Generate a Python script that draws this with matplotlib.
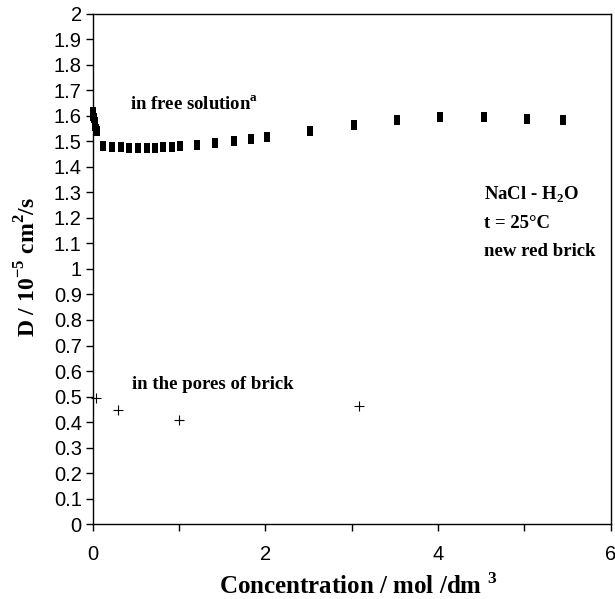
import matplotlib
matplotlib.use("Agg")
import matplotlib.pyplot as plt
import numpy as np
from matplotlib.path import Path

# Data
free_conc = [0.002, 0.005, 0.01, 0.02, 0.03, 0.04, 0.05,
             0.12, 0.22, 0.33, 0.42, 0.52, 0.63, 0.72, 0.81, 0.92, 1.01,
             1.21, 1.42, 1.63, 1.83, 2.02, 2.52, 3.02, 3.52, 4.02, 4.53, 5.03, 5.45]
free_D = [1.615, 1.60, 1.59, 1.575, 1.56, 1.55, 1.54,
          1.482, 1.478, 1.476, 1.474, 1.474, 1.474, 1.475, 1.477, 1.479, 1.481,
          1.487, 1.493, 1.500, 1.509, 1.516, 1.542, 1.566, 1.585, 1.594, 1.594, 1.589, 1.583]
pore_conc = [0.04, 0.29, 1.00, 3.08]
pore_D = [0.495, 0.448, 0.409, 0.461]

yticks = [round(0.1 * i, 1) for i in range(21)]
ytick_labels = [("%g" % v) for v in yticks]
xticks = [0, 2, 4, 6]
xminor = [1, 3, 5]

plt.rcParams['mathtext.fontset'] = 'custom'
plt.rcParams['mathtext.rm'] = 'Liberation Serif:bold'
plt.rcParams['mathtext.bf'] = 'Liberation Serif:bold'

fig = plt.figure(figsize=(6.15, 5.99), dpi=100)
ax = fig.add_axes([0.151, 0.125, 0.842, 0.852])

rect = Path([(-0.36, -0.5), (0.36, -0.5), (0.36, 0.5), (-0.36, 0.5), (-0.36, -0.5)],
            [Path.MOVETO, Path.LINETO, Path.LINETO, Path.LINETO, Path.CLOSEPOLY])
ax.plot(free_conc, free_D, linestyle='none', marker=rect, markersize=6.5,
        color='black', markeredgewidth=0, clip_on=False)
ax.plot(pore_conc, pore_D, linestyle='none', marker='+', markersize=7,
        color='black', markeredgewidth=0.8, clip_on=False)

ax.set_xlim(0, 6)
ax.set_ylim(0, 2)
ax.set_xticks(xticks)
ax.set_xticks(xminor, minor=True)
ax.set_yticks(yticks)
ax.set_yticklabels(ytick_labels)
ax.tick_params(axis='both', direction='out', length=5, width=1, labelsize=14.5,
               colors='black')
ax.tick_params(axis='x', which='minor', direction='out', length=5, width=1)
ax.tick_params(axis='x', pad=10)
ax.tick_params(axis='y', pad=3)
for lab in ax.get_xticklabels() + ax.get_yticklabels():
    lab.set_fontfamily('Liberation Sans')
for s in ax.spines.values():
    s.set_linewidth(1)
    s.set_color('black')

serif = 'Liberation Serif'
fs = 13.5
ax.text(0.43, 1.625, r'in free solution$^{\mathregular{a}}$', fontsize=fs,
        fontweight='bold', family=serif)
ax.text(0.45, 0.53, 'in the pores of brick', fontsize=fs,
        fontweight='bold', family=serif)
ax.text(4.53, 1.273, r'NaCl - H$_{\mathregular{2}}$O', fontsize=fs,
        fontweight='bold', family=serif)
ax.text(4.53, 1.16, 't = 25\u00b0C', fontsize=fs, fontweight='bold', family=serif)
ax.text(4.53, 1.05, 'new red brick', fontsize=fs, fontweight='bold', family=serif)

fig.text(0.583, 5.0 / 599, r'Concentration / mol /dm $^{\mathregular{3}}$',
         fontsize=18, fontweight='bold', family=serif, ha='center', va='baseline')
fig.text(0.046, 0.554, r'D / 10$^{\mathregular{-5}}$ cm$^{\mathregular{2}}$/s',
         fontsize=17, fontweight='bold', family=serif, ha='center', va='center',
         rotation=90)

fig.savefig('out.png', dpi=100)
